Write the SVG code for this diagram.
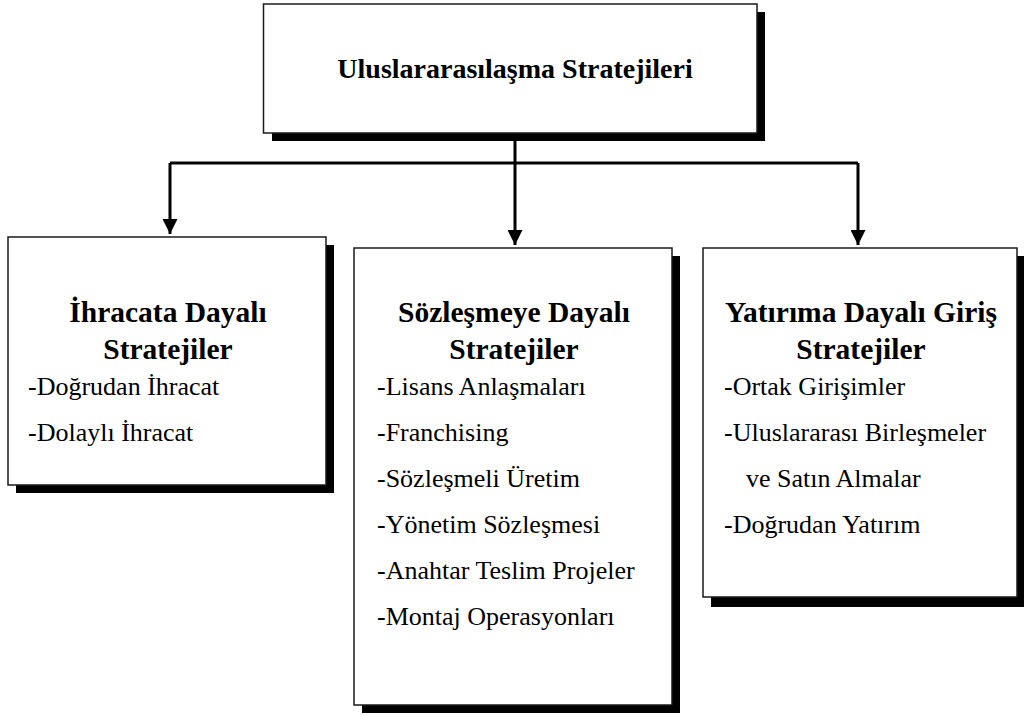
<svg xmlns="http://www.w3.org/2000/svg" width="1024" height="716" viewBox="0 0 1024 716">
<style>
.box{fill:#fff;stroke:#1a1a1a;stroke-width:1.5}
.sh{fill:#000}
text{font-family:'Liberation Serif','Times New Roman',Tinos,'Noto Serif','DejaVu Serif',FreeSerif,'Nimbus Roman',Times,serif;fill:#000}
.title{font-weight:bold;font-size:28px;text-anchor:middle}
.head{font-weight:bold;font-size:29.5px;text-anchor:middle}
.item{font-size:26px}
.con{fill:none;stroke:#000;stroke-width:3}
</style>
<defs>
<marker id="arr" viewBox="0 0 10 10" refX="10" refY="5" markerWidth="5" markerHeight="5" orient="auto" markerUnits="strokeWidth">
<path d="M0,0 L10,5 L0,10 Z" fill="#000"/>
</marker>
</defs>
<rect width="1024" height="716" fill="#fff"/>
<g id="connectors">
<path class="con" d="M515,133 V245" marker-end="url(#arr)"/>
<path class="con" d="M170,163 H858"/>
<path class="con" d="M170,163 V234" marker-end="url(#arr)"/>
<path class="con" d="M858,163 V245" marker-end="url(#arr)"/>
</g>
<g id="root">
<rect class="sh" x="272" y="12" width="493" height="129"/>
<rect class="box" x="263.5" y="4" width="493.5" height="129"/>
<text class="title" x="515" y="78">Uluslararasılaşma Stratejileri</text>
</g>
<g id="ihracat">
<rect class="sh" x="16" y="245" width="318" height="248"/>
<rect class="box" x="8" y="237" width="318" height="248"/>
<text class="head" x="168" y="322">İhracata Dayalı</text>
<text class="head" x="168" y="359">Stratejiler</text>
<text class="item" x="28" y="395">-Doğrudan İhracat</text>
<text class="item" x="28" y="441">-Dolaylı İhracat</text>
</g>
<g id="sozlesme">
<rect class="sh" x="362" y="256" width="318" height="457"/>
<rect class="box" x="354" y="248" width="318" height="457"/>
<text class="head" x="514" y="322">Sözleşmeye Dayalı</text>
<text class="head" x="514" y="359">Stratejiler</text>
<text class="item" x="377" y="395">-Lisans Anlaşmaları</text>
<text class="item" x="377" y="441">-Franchising</text>
<text class="item" x="377" y="487">-Sözleşmeli Üretim</text>
<text class="item" x="377" y="533">-Yönetim Sözleşmesi</text>
<text class="item" x="377" y="579">-Anahtar Teslim Projeler</text>
<text class="item" x="377" y="625">-Montaj Operasyonları</text>
</g>
<g id="yatirim">
<rect class="sh" x="711" y="256" width="314" height="351"/>
<rect class="box" x="703" y="248" width="314" height="349"/>
<text class="head" x="861" y="322">Yatırıma Dayalı Giriş</text>
<text class="head" x="861" y="359">Stratejiler</text>
<text class="item" x="724" y="395">-Ortak Girişimler</text>
<text class="item" x="724" y="441">-Uluslararası Birleşmeler</text>
<text class="item" x="746" y="487">ve Satın Almalar</text>
<text class="item" x="724" y="533">-Doğrudan Yatırım</text>
</g>
</svg>
